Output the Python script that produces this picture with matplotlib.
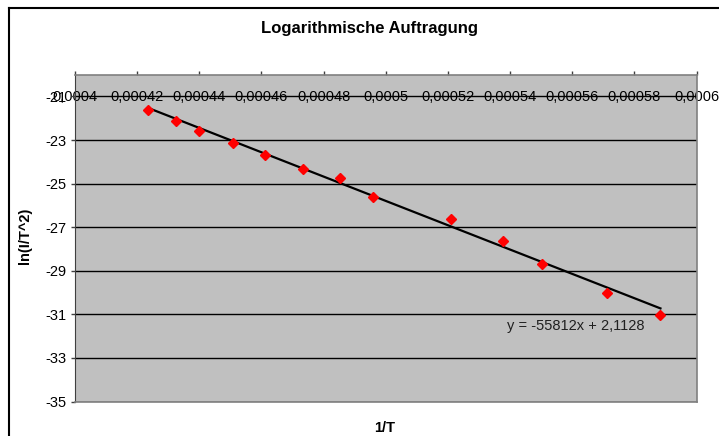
import numpy as np
import matplotlib
matplotlib.use('Agg')
import matplotlib.pyplot as plt
from matplotlib.lines import Line2D
from matplotlib.ticker import FuncFormatter

## data
inv_T = [0.0004236, 0.0004324, 0.00044, 0.000451, 0.000461, 0.0004733, 0.0004853,
         0.0004958, 0.0005209, 0.0005377, 0.0005503, 0.0005713, 0.0005884]
ln_I_T2 = [-21.61, -22.12, -22.57, -23.15, -23.69, -24.34, -24.75,
           -25.61, -26.64, -27.63, -28.67, -30.00, -31.03]
slope = -55812
intercept = 2.1128
y_ticks = [-35, -33, -31, -29, -27, -25, -23, -21]

plt.rcParams['font.family'] = ['Liberation Sans', 'DejaVu Sans']
plt.rcParams['axes.unicode_minus'] = False

W, H = 719, 436
fig = plt.figure(figsize=(W / 100, H / 100), dpi=100)
ax = fig.add_axes([75 / W, 1 - 401.5 / H, 621.5 / W, 326.8 / H])

ax.set_facecolor('#C0C0C0')
ax.set_xlim(0.0004, 0.0006)
ax.set_ylim(-35, -20)

## horizontal gridlines
ax.set_yticks(y_ticks)
ax.grid(axis='y', color='black', linewidth=1)
ax.set_axisbelow(True)

## trend line and data
xs = np.array([inv_T[0], inv_T[-1]])
ax.plot(xs, slope * xs + intercept, color='black', linewidth=1.6, zorder=3)
ax.plot(inv_T, ln_I_T2, linestyle='none', marker='D', markersize=5,
        color='#FF0000', markeredgecolor='#FF0000', zorder=4)

ax.text(0.805, 0.231, 'y = -55812x + 2,1128', transform=ax.transAxes,
        ha='center', va='center', fontsize=10.5, color='#202020')

## x axis on top, labels below the axis line
ax.set_xticks(np.arange(0.0004, 0.00060001, 0.00002))
ax.xaxis.tick_top()
ax.xaxis.set_major_formatter(FuncFormatter(
    lambda v, p: ('%.5f' % v).rstrip('0').replace('.', ',')))
ax.tick_params(axis='x', direction='out', length=3, width=1, color='#404040',
               pad=-24, labelsize=10.5)
ax.tick_params(axis='y', direction='out', length=3, width=1, color='#404040',
               labelsize=10.5, pad=3)

for side in ['top', 'right', 'bottom']:
    ax.spines[side].set_color('#808080')
    ax.spines[side].set_linewidth(1.2)
ax.spines['left'].set_color('#404040')

fig.text(369.5 / W, 1 - 29 / H, 'Logarithmische Auftragung', ha='center',
         va='center', fontsize=12, fontweight='bold')
fig.text(385 / W, 1 - 428 / H, '1/T', ha='center', va='center',
         fontsize=10.5, fontweight='bold')
fig.text(25 / W, 1 - 236 / H, 'ln(I/T^2)', ha='center', va='center',
         fontsize=10.5, fontweight='bold', rotation=90)

## chart border (left and top visible)
fig.add_artist(Line2D([9 / W, 9 / W], [0, 1 - 8 / H], color='black', linewidth=1.5,
                      transform=fig.transFigure))
fig.add_artist(Line2D([9 / W, 1], [1 - 8 / H, 1 - 8 / H], color='black', linewidth=1.5,
                      transform=fig.transFigure))

fig.savefig('out.png', dpi=100)
